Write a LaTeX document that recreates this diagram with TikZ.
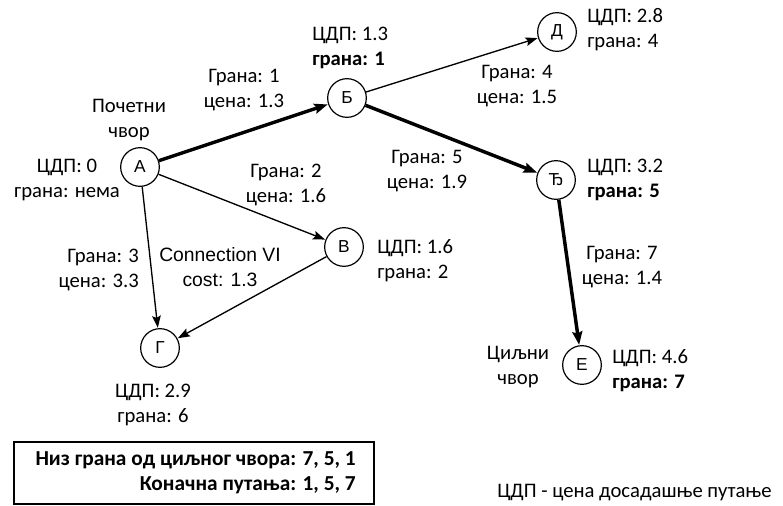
\documentclass[tikz,border=0pt]{standalone}
\usepackage{fontspec}
\setmainfont{Carlito}
\newfontfamily\arialfont{Liberation Sans}
\usetikzlibrary{arrows.meta}

\begin{document}
\begin{tikzpicture}[x=0.75pt,y=-0.75pt,font=\fontsize{15.5}{18.75}\selectfont,
  vertex/.style={draw,circle,minimum size=29pt,inner sep=0pt,line width=0.9pt,font=\arialfont\fontsize{13}{15}\selectfont},
  note/.style={align=center,inner sep=0pt},
  leftnote/.style={align=left,inner sep=0pt,anchor=west},
  edge/.style={-{Stealth[length=9pt,width=6.5pt,inset=1.5pt]},line width=1pt,shorten >=0.3pt},
  bestedge/.style={edge,line width=2.6pt,-{Stealth[length=10pt,width=7.5pt,inset=1.5pt]}}]
\useasboundingbox (0,0) rectangle (783,506);
\node[vertex] (a) at (140,167) {А};
\node[vertex] (b) at (347,98) {Б};
\node[vertex] (d) at (557,32) {Д};
\node[vertex] (dj) at (556,180) {Ђ};
\node[vertex] (v) at (344,247) {В};
\node[vertex] (g) at (160,348) {Г};
\node[vertex] (e) at (582,365) {Е};

\node[note] (startlbl) at (129,120) {Почетни\\чвор};
\node[note] (alabel) at (67,180) {ЦДП: 0\\грана: нема};
\node[leftnote] (blabel) at (312,48) {ЦДП: 1.3\\\textbf{грана: 1}};
\node[leftnote] (dlabel) at (587,30) {ЦДП: 2.8\\грана: 4};
\node[leftnote] (djlabel) at (587,180) {ЦДП: 3.2\\\textbf{грана: 5}};
\node[leftnote] (vlabel) at (377,261) {ЦДП: 1.6\\грана: 2};
\node[note] (glabel) at (153,405) {ЦДП: 2.9\\грана: 6};
\node[leftnote] (elabel) at (612,371) {ЦДП: 4.6\\\textbf{грана: 7}};
\node[note] (goallbl) at (518,367) {Циљни\\чвор};

\node[note] (ab) at (244,90) {Грана: 1\\цена: 1.3};
\node[note] (bd) at (517,86) {Грана: 4\\цена: 1.5};
\node[note] (bdj) at (427,171) {Грана: 5\\цена: 1.9};
\node[note] (av) at (286,185) {Грана: 2\\цена: 1.6};
\node[note,align=right,anchor=east] (ag) at (139,270) {Грана: 3\\цена: 3.3};
\node[note,font=\arialfont\fontsize{14.5}{18.75}\selectfont] (vg) at (220,267) {Connection VI\\cost: 1.3};
\node[note] (dje) at (622,267) {Грана: 7\\цена: 1.4};

\draw[bestedge] (a) -- (b);
\draw[bestedge] (b) -- (dj);
\draw[bestedge] (dj) -- (e);
\draw[edge] (b) -- (d);
\draw[edge] (a) -- (v);
\draw[edge] (a) -- (g);
\draw[edge] (v) -- (g);

\node[draw,line width=1.5pt,minimum width=270pt,minimum height=46.5pt,inner sep=0pt] (summary) at (194,473) {};
\node[note,align=right,anchor=east,font=\fontsize{16}{18.75}\selectfont\bfseries] (summarytext) at (356,473) {Низ грана од циљног чвора: 7, 5, 1\\Коначна путања: 1, 5, 7};
\node[anchor=west,inner sep=0pt] (legend) at (497,493) {ЦДП - цена досадашње путање};
\end{tikzpicture}
\end{document}
